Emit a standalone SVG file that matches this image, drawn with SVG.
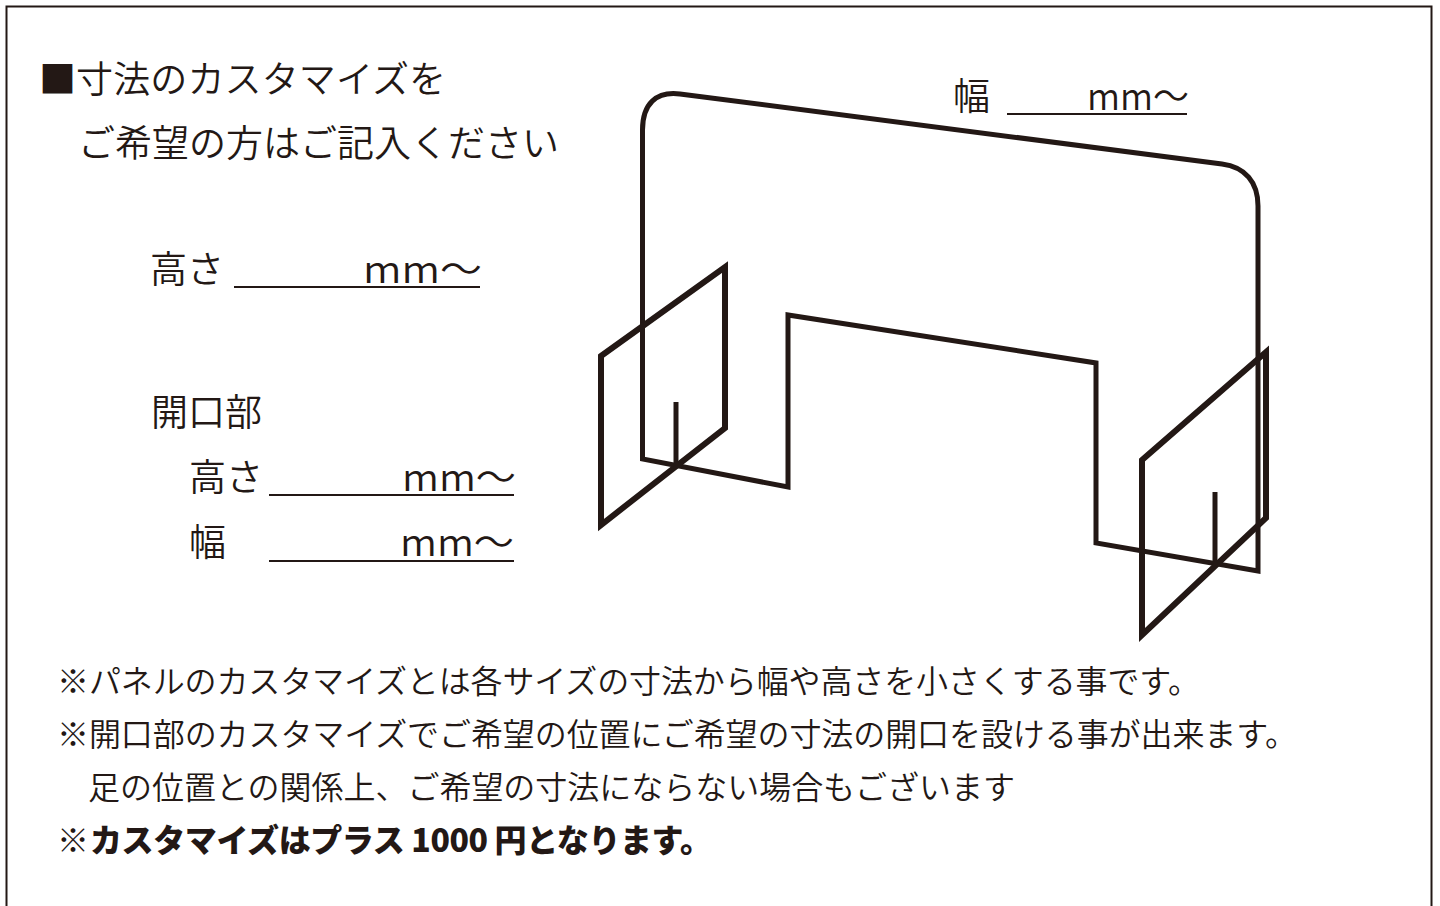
<svg xmlns="http://www.w3.org/2000/svg" width="1440" height="906" viewBox="0 0 1440 906">
<style>
.t{font-family:"Noto Sans CJK JP","Noto Sans",sans-serif;fill:#231815;font-weight:350;}
.h{font-size:37px;}
.s{font-size:32px;}
.b{font-weight:900;}
.ln{stroke:#231815;stroke-width:5;fill:none;stroke-linejoin:miter;}
.ft{stroke:#231815;stroke-width:6;fill:none;stroke-linejoin:miter;}
.ul{stroke:#231815;stroke-width:2.2;}
</style>
<rect x="0" y="0" width="1440" height="906" fill="#ffffff"/>
<rect x="6.5" y="6.5" width="1425" height="960" fill="none" stroke="#231815" stroke-width="2"/>
<g id="title">
<text class="t h" x="39" y="93" textLength="407">■寸法のカスタマイズを</text>
<text class="t h" x="78" y="157" textLength="481">ご希望の方はご記入ください</text>
</g>
<g id="height-field">
<text class="t h" x="150" y="283">高さ</text>
<line class="ul" x1="234" y1="287" x2="480" y2="287"/>
<text class="t h" x="363" y="283" textLength="119" lengthAdjust="spacingAndGlyphs">mm〜</text>
</g>
<g id="opening-field">
<text class="t h" x="151" y="426">開口部</text>
<text class="t h" x="189" y="491">高さ</text>
<line class="ul" x1="269" y1="495" x2="514" y2="495"/>
<text class="t h" x="402" y="491" textLength="114" lengthAdjust="spacingAndGlyphs">mm〜</text>
<text class="t h" x="189" y="556">幅</text>
<line class="ul" x1="269" y1="561" x2="514" y2="561"/>
<text class="t h" x="400" y="556" textLength="114" lengthAdjust="spacingAndGlyphs">mm〜</text>
</g>
<g id="width-field">
<text class="t h" x="953" y="110">幅</text>
<line class="ul" x1="1007" y1="114" x2="1187" y2="114"/>
<text class="t h" x="1087" y="110" textLength="102" lengthAdjust="spacingAndGlyphs">mm〜</text>
</g>
<g id="panel">
<path class="ln" d="M642.5 459 L642.5 130 C642.5 104 656 91 680 94 L1222 164 C1245 167 1258 182 1258 206 L1258 571 L1096 543 L1096 363 L788 315 L788 487 Z"/>
<path class="ft" d="M601 356 L725 267 L725 428 L601 525 Z"/>
<path class="ft" d="M1142 460 L1266 352 L1266 518 L1142 635 Z"/>
<line class="ln" x1="676" y1="402" x2="676" y2="467"/>
<line class="ln" x1="1215" y1="492" x2="1215" y2="567"/>
</g>
<g id="notes">
<text class="t s" x="57" y="693" textLength="1143">※パネルのカスタマイズとは各サイズの寸法から幅や高さを小さくする事です。</text>
<text class="t s" x="57" y="746" textLength="1240">※開口部のカスタマイズでご希望の位置にご希望の寸法の開口を設ける事が出来ます。</text>
<text class="t s" x="88" y="799" textLength="927">足の位置との関係上、ご希望の寸法にならない場合もございます</text>
<text class="t s" x="57" y="852">※</text>
<text class="t s b" x="90" y="852" textLength="622">カスタマイズはプラス 1000 円となります。</text>
</g>
</svg>
